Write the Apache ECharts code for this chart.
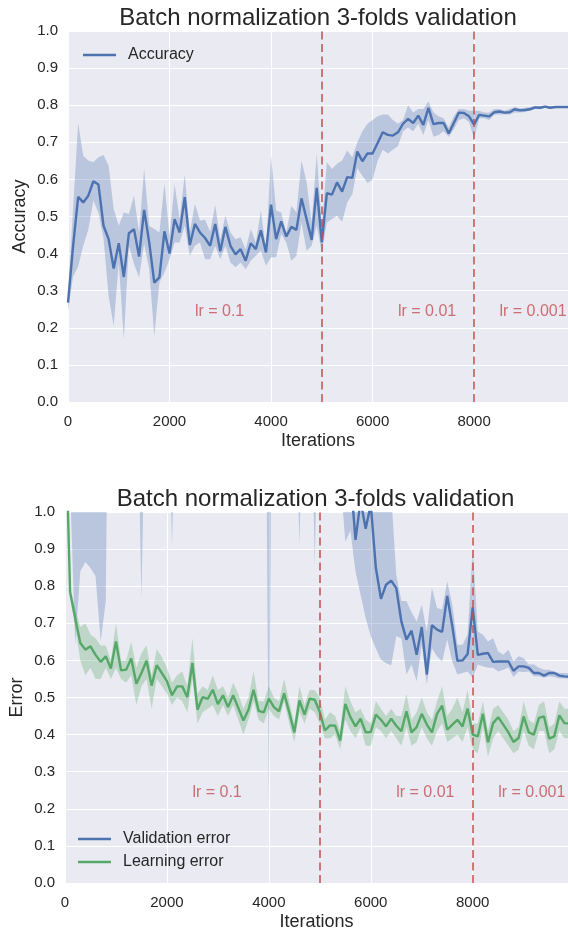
<!DOCTYPE html>
<html>
<head>
<meta charset="utf-8">
<script src="https://cdn.jsdelivr.net/npm/echarts@6/dist/echarts.min.js"></script>
<style>
  html, body { margin: 0; padding: 0; background: #ffffff; }
  #chart { width: 568px; height: 932px; }
</style>
</head>
<body>
<div id="chart"></div>
<script>
// Training iterations at which each fold was evaluated
const iterations = [
  0, 100, 200, 300, 400, 500, 600, 700, 800, 900,
  1000, 1100, 1200, 1300, 1400, 1500, 1600, 1700, 1800, 1900,
  2000, 2100, 2200, 2300, 2400, 2500, 2600, 2700, 2800, 2900,
  3000, 3100, 3200, 3300, 3400, 3500, 3600, 3700, 3800, 3900,
  4000, 4100, 4200, 4300, 4400, 4500, 4600, 4700, 4800, 4900,
  5000, 5100, 5200, 5300, 5400, 5500, 5600, 5700, 5800, 5900,
  6000, 6100, 6200, 6300, 6400, 6500, 6600, 6700, 6800, 6900,
  7000, 7100, 7200, 7300, 7400, 7500, 7600, 7700, 7800, 7900,
  8000, 8100, 8200, 8300, 8400, 8500, 8600, 8700, 8800, 8900,
  9000, 9100, 9200, 9300, 9400, 9500, 9600, 9700, 9800, 9900
];

// Mean validation accuracy over the 3 folds, with its spread
const accuracy = [
  0.268, 0.42, 0.553, 0.538, 0.556, 0.595, 0.586, 0.475, 0.439, 0.36,
  0.428, 0.337, 0.455, 0.466, 0.392, 0.518, 0.43, 0.322, 0.336, 0.46,
  0.40, 0.493, 0.457, 0.552, 0.423, 0.48, 0.457, 0.442, 0.421, 0.48,
  0.406, 0.472, 0.421, 0.398, 0.412, 0.381, 0.428, 0.412, 0.463, 0.403,
  0.532, 0.439, 0.487, 0.446, 0.472, 0.464, 0.549, 0.493, 0.437, 0.577,
  0.43, 0.563, 0.559, 0.592, 0.567, 0.606, 0.604, 0.675, 0.649, 0.67,
  0.67, 0.698, 0.727, 0.72, 0.718, 0.727, 0.75, 0.763, 0.752, 0.772,
  0.747, 0.793, 0.749, 0.752, 0.752, 0.724, 0.752, 0.78, 0.779, 0.77,
  0.748, 0.774, 0.772, 0.77, 0.781, 0.783, 0.78, 0.781, 0.789, 0.786,
  0.787, 0.789, 0.794, 0.793, 0.796, 0.793, 0.795, 0.795, 0.795, 0.795
];
const accuracyLow = [
  0.245, 0.338, 0.365, 0.421, 0.465, 0.543, 0.51, 0.44, 0.286, 0.205,
  0.376, 0.169, 0.421, 0.372, 0.336, 0.426, 0.358, 0.178, 0.322, 0.349,
  0.385, 0.43, 0.43, 0.475, 0.394, 0.421, 0.43, 0.385, 0.385, 0.421,
  0.385, 0.421, 0.376, 0.363, 0.376, 0.358, 0.381, 0.394, 0.408, 0.367,
  0.39, 0.39, 0.453, 0.43, 0.381, 0.394, 0.484, 0.408, 0.421, 0.475,
  0.403, 0.484, 0.493, 0.502, 0.486, 0.538, 0.56, 0.63, 0.61, 0.59,
  0.60, 0.65, 0.68, 0.67, 0.68, 0.69, 0.73, 0.74, 0.73, 0.75,
  0.72, 0.76, 0.715, 0.72, 0.73, 0.715, 0.735, 0.76, 0.765, 0.755,
  0.71, 0.765, 0.765, 0.76, 0.775, 0.775, 0.775, 0.775, 0.78, 0.78,
  0.782, 0.785, 0.79, 0.789, 0.793, 0.79, 0.792, 0.793, 0.793, 0.793
];
const accuracyHigh = [
  0.29, 0.52, 0.752, 0.664, 0.651, 0.646, 0.66, 0.666, 0.637, 0.52,
  0.475, 0.511, 0.507, 0.556, 0.457, 0.628, 0.475, 0.466, 0.457, 0.588,
  0.448, 0.586, 0.493, 0.613, 0.457, 0.534, 0.489, 0.491, 0.459, 0.531,
  0.439, 0.502, 0.457, 0.439, 0.444, 0.412, 0.466, 0.43, 0.516, 0.412,
  0.664, 0.516, 0.511, 0.457, 0.529, 0.511, 0.651, 0.592, 0.484, 0.669,
  0.475, 0.646, 0.628, 0.642, 0.651, 0.678, 0.66, 0.70, 0.73, 0.75,
  0.76, 0.77, 0.775, 0.775, 0.76, 0.75, 0.76, 0.80, 0.78, 0.79,
  0.79, 0.81, 0.78, 0.77, 0.765, 0.74, 0.77, 0.79, 0.79, 0.785,
  0.785, 0.785, 0.78, 0.78, 0.79, 0.79, 0.785, 0.79, 0.795, 0.792,
  0.793, 0.795, 0.798, 0.797, 0.799, 0.797, 0.798, 0.797, 0.797, 0.797
];

// Mean validation error (diverges above 1.0 during the lr = 0.1 phase)
const validationError = [
  2.3, 1.9, 1.6, 1.5, 1.45, 1.4, 1.35, 1.3, 1.4, 2.6,
  3.0, 2.8, 3.2, 2.9, 3.1, 2.0, 3.0, 3.3, 2.9, 3.1,
  3.0, 2.2, 3.1, 3.0, 2.8, 3.2, 3.0, 2.9, 3.1, 3.3,
  3.0, 2.9, 3.2, 3.1, 3.0, 3.4, 3.1, 3.2, 3.0, 3.5,
  2.4, 3.4, 3.1, 3.0, 2.9, 2.8, 2.3, 2.9, 2.7, 2.1,
  2.6, 2.4, 2.2, 1.9, 1.6, 1.3, 1.1, 0.925, 1.03, 0.955,
  1.02, 0.849, 0.766, 0.804, 0.815, 0.795, 0.705, 0.656, 0.68, 0.615,
  0.69, 0.562, 0.695, 0.683, 0.677, 0.774, 0.692, 0.599, 0.60, 0.617,
  0.743, 0.615, 0.618, 0.62, 0.596, 0.597, 0.597, 0.597, 0.572, 0.584,
  0.584, 0.58, 0.566, 0.566, 0.559, 0.566, 0.566, 0.559, 0.557, 0.556
];
const validationLow = [
  2.0, 1.08, 0.642, 0.84, 0.865, 0.849, 0.827, 0.651, 0.76, 2.2,
  2.5, 2.4, 2.6, 2.5, 1.5, 0.764, 1.5, 2.9, 2.5, 2.7,
  1.5, 0.907, 1.5, 2.6, 2.4, 2.8, 2.6, 2.5, 2.7, 2.9,
  2.6, 2.5, 2.8, 2.7, 2.6, 3.0, 2.7, 2.8, 2.6, 2.2,
  0.2, 2.2, 2.7, 2.6, 2.5, 1.5, 0.911, 1.5, 1.6, 0.853,
  1.6, 2.0, 1.8, 1.5, 1.1, 0.92, 0.95, 0.84, 0.777, 0.714,
  0.665, 0.633, 0.602, 0.593, 0.586, 0.665, 0.66, 0.562, 0.589, 0.544,
  0.642, 0.535, 0.633, 0.611, 0.597, 0.656, 0.597, 0.562, 0.566, 0.57,
  0.553, 0.589, 0.584, 0.58, 0.58, 0.57, 0.575, 0.581, 0.555, 0.57,
  0.569, 0.57, 0.557, 0.557, 0.553, 0.557, 0.555, 0.551, 0.551, 0.55
];
const validationHigh = [
  3.2, 2.9, 2.6, 2.4, 2.3, 2.2, 2.1, 2.0, 2.2, 3.4,
  3.8, 3.6, 4.0, 3.7, 3.9, 2.9, 3.8, 4.1, 3.7, 3.9,
  3.8, 3.0, 3.9, 3.8, 3.6, 4.0, 3.8, 3.7, 3.9, 4.1,
  3.8, 3.7, 4.0, 3.9, 3.8, 4.2, 3.9, 4.0, 3.8, 4.3,
  3.2, 4.2, 3.9, 3.8, 3.7, 3.6, 3.1, 3.7, 3.5, 2.9,
  3.4, 3.2, 3.0, 2.7, 2.4, 2.1, 1.9, 1.6, 1.5, 1.4,
  1.35, 1.3, 1.2, 1.15, 1.05, 0.83, 0.76, 0.76, 0.73, 0.705,
  0.75, 0.678, 0.795, 0.741, 0.737, 0.813, 0.75, 0.642, 0.642, 0.669,
  0.903, 0.678, 0.669, 0.651, 0.66, 0.624, 0.615, 0.629, 0.597, 0.611,
  0.606, 0.589, 0.589, 0.58, 0.575, 0.575, 0.57, 0.566, 0.566, 0.565
];

// Mean training (learning) error over the 3 folds, with its spread
const learningError = [
  1.3, 0.784, 0.714, 0.647, 0.629, 0.638, 0.615, 0.596, 0.611, 0.578,
  0.651, 0.573, 0.575, 0.605, 0.537, 0.566, 0.599, 0.532, 0.587, 0.566,
  0.544, 0.506, 0.53, 0.53, 0.501, 0.593, 0.467, 0.501, 0.496, 0.521,
  0.482, 0.506, 0.474, 0.506, 0.472, 0.438, 0.467, 0.521, 0.464, 0.46,
  0.497, 0.474, 0.463, 0.511, 0.46, 0.406, 0.492, 0.454, 0.497, 0.494,
  0.461, 0.411, 0.425, 0.424, 0.384, 0.483, 0.447, 0.422, 0.443, 0.406,
  0.407, 0.454, 0.44, 0.422, 0.443, 0.424, 0.409, 0.463, 0.406, 0.42,
  0.456, 0.427, 0.406, 0.456, 0.478, 0.413, 0.427, 0.44, 0.422, 0.47,
  0.40, 0.395, 0.456, 0.379, 0.431, 0.447, 0.427, 0.406, 0.38, 0.391,
  0.449, 0.406, 0.40, 0.445, 0.449, 0.389, 0.395, 0.452, 0.431, 0.43
];
const learningLow = [
  1.25, 0.77, 0.69, 0.60, 0.56, 0.58, 0.55, 0.55, 0.58, 0.55,
  0.58, 0.55, 0.54, 0.56, 0.48, 0.53, 0.55, 0.47, 0.55, 0.53,
  0.51, 0.48, 0.50, 0.49, 0.46, 0.55, 0.43, 0.46, 0.47, 0.48,
  0.45, 0.48, 0.45, 0.48, 0.44, 0.40, 0.44, 0.49, 0.44, 0.43,
  0.47, 0.45, 0.44, 0.49, 0.43, 0.38, 0.46, 0.43, 0.47, 0.46,
  0.43, 0.39, 0.39, 0.40, 0.36, 0.44, 0.41, 0.39, 0.42, 0.37,
  0.37, 0.42, 0.41, 0.39, 0.41, 0.39, 0.37, 0.42, 0.37, 0.38,
  0.42, 0.39, 0.37, 0.41, 0.43, 0.38, 0.39, 0.40, 0.38, 0.42,
  0.36, 0.35, 0.42, 0.34, 0.39, 0.41, 0.39, 0.37, 0.35, 0.36,
  0.41, 0.37, 0.36, 0.41, 0.41, 0.35, 0.36, 0.41, 0.39, 0.39
];
const learningHigh = [
  1.35, 0.80, 0.74, 0.69, 0.70, 0.67, 0.66, 0.64, 0.64, 0.60,
  0.70, 0.60, 0.60, 0.65, 0.58, 0.62, 0.64, 0.56, 0.63, 0.61,
  0.58, 0.54, 0.56, 0.57, 0.53, 0.66, 0.51, 0.53, 0.52, 0.56,
  0.52, 0.53, 0.50, 0.54, 0.51, 0.47, 0.50, 0.57, 0.49, 0.49,
  0.53, 0.50, 0.49, 0.55, 0.49, 0.43, 0.53, 0.48, 0.52, 0.52,
  0.50, 0.44, 0.46, 0.45, 0.41, 0.53, 0.49, 0.46, 0.47, 0.44,
  0.43, 0.49, 0.47, 0.45, 0.47, 0.45, 0.45, 0.51, 0.44, 0.46,
  0.50, 0.46, 0.44, 0.49, 0.53, 0.45, 0.47, 0.50, 0.46, 0.52,
  0.43, 0.43, 0.49, 0.41, 0.47, 0.48, 0.46, 0.44, 0.41, 0.42,
  0.49, 0.44, 0.43, 0.48, 0.49, 0.42, 0.43, 0.49, 0.47, 0.47
];

// Axis ticks, learning-rate schedule and its annotations
const xTickLabels = [0, 2000, 4000, 6000, 8000];
const lrChangeIterations = [5000, 8000];
const lrNotes = [
  { iteration: 2500, text: 'lr = 0.1' },
  { iteration: 6500, text: 'lr = 0.01' },
  { iteration: 8500, text: 'lr = 0.001' }
];
const lrNoteLevel = 0.243;

const FONT = '"Liberation Sans", Arial, sans-serif';
const INK = '#262626';
const BLUE = '#4C72B0';
const GREEN = '#55A868';
const RED = '#C44E52';
const TITLE = 'Batch normalization 3-folds validation';

const chart = echarts.init(document.getElementById('chart'), null, { renderer: 'canvas' });

function pairs(values) {
  return iterations.map((x, i) => [x, values[i]]);
}

// Shaded spread between low and high, drawn as one polygon through the axes
function band(name, axisIndex, low, high, color) {
  return {
    type: 'custom',
    name: name,
    xAxisIndex: axisIndex,
    yAxisIndex: axisIndex,
    clip: true,
    silent: true,
    z: 2,
    data: iterations.map((x, i) => [x, low[i], high[i]]),
    encode: { x: 0, y: [1, 2] },
    renderItem: function (params, api) {
      if (params.dataIndex !== 0) return null;
      const pts = [];
      for (let i = 0; i < iterations.length; i++) pts.push(api.coord([iterations[i], high[i]]));
      for (let i = iterations.length - 1; i >= 0; i--) pts.push(api.coord([iterations[i], low[i]]));
      return { type: 'polygon', shape: { points: pts }, style: { fill: color } };
    }
  };
}

function meanLine(name, axisIndex, values, color, withMarks) {
  const s = {
    type: 'line',
    name: name,
    xAxisIndex: axisIndex,
    yAxisIndex: axisIndex,
    data: pairs(values),
    symbol: 'none',
    clip: true,
    z: 3,
    silent: true,
    lineStyle: { color: color, width: 2.4 },
    itemStyle: { color: color }
  };
  if (withMarks) {
    s.markLine = {
      silent: true,
      symbol: 'none',
      label: { show: false },
      lineStyle: { color: RED, type: [8, 4.5], width: 1.5 },
      emphasis: { disabled: true },
      data: lrChangeIterations.map(v => ({ xAxis: v }))
    };
  }
  return s;
}

function notes(axisIndex) {
  return {
    type: 'scatter',
    xAxisIndex: axisIndex,
    yAxisIndex: axisIndex,
    symbolSize: 0,
    silent: true,
    z: 4,
    data: lrNotes.map(n => ({ value: [n.iteration, lrNoteLevel], name: n.text })),
    label: {
      show: true,
      position: 'right',
      distance: 0,
      formatter: p => p.name,
      color: RED,
      fontSize: 16,
      fontFamily: FONT
    }
  };
}

function xAxis(gridIndex, max) {
  return {
    gridIndex: gridIndex,
    type: 'value',
    min: 0,
    max: max,
    interval: 2000,
    axisLine: { show: false },
    axisTick: { show: false },
    splitLine: { show: true, lineStyle: { color: '#ffffff', width: 1 } },
    axisLabel: {
      color: INK, fontSize: 15, fontFamily: FONT, margin: 12,
      showMaxLabel: false,
      formatter: v => (xTickLabels.indexOf(v) >= 0 ? String(v) : '')
    },
    name: 'Iterations',
    nameLocation: 'middle',
    nameGap: 30,
    nameTextStyle: { color: INK, fontSize: 18, fontFamily: FONT }
  };
}

function yAxis(gridIndex, name, gap) {
  return {
    gridIndex: gridIndex,
    type: 'value',
    min: 0,
    max: 1,
    interval: 0.1,
    axisLine: { show: false },
    axisTick: { show: false },
    splitLine: { show: true, lineStyle: { color: '#ffffff', width: 1 } },
    axisLabel: {
      color: INK, fontSize: 15, fontFamily: FONT, margin: 10,
      formatter: v => v.toFixed(1)
    },
    name: name,
    nameLocation: 'middle',
    nameGap: gap,
    nameMoveOverlap: false,
    nameTextStyle: { color: INK, fontSize: 18, fontFamily: FONT }
  };
}

const legendText = { color: INK, fontSize: 16, fontFamily: FONT, padding: [0, 0, 0, 7] };

chart.setOption({
  animation: false,
  backgroundColor: '#ffffff',
  textStyle: { fontFamily: FONT },
  graphic: [
    { type: 'text', x: 318, y: 18, silent: true,
      style: { text: TITLE, fill: INK, font: '24px ' + FONT, align: 'center', verticalAlign: 'middle' } },
    { type: 'text', x: 315.5, y: 499, silent: true,
      style: { text: TITLE, fill: INK, font: '24px ' + FONT, align: 'center', verticalAlign: 'middle' } }
  ],
  grid: [
    { left: 68, top: 31, right: 0, height: 371, show: true, backgroundColor: '#EAEAF2', borderWidth: 0 },
    { left: 63, top: 512, right: 0, height: 371, show: true, backgroundColor: '#EAEAF2', borderWidth: 0 }
  ],
  xAxis: [xAxis(0, 9850), xAxis(1, 9870)],
  yAxis: [yAxis(0, 'Accuracy', 39), yAxis(1, 'Error', 39)],
  legend: [
    {
      data: ['Accuracy'], left: 83, top: 47, padding: 0, icon: 'rect',
      itemWidth: 33, itemHeight: 2.5, selectedMode: false, textStyle: legendText
    },
    {
      data: ['Validation error', 'Learning error'], orient: 'vertical', left: 78, top: 831, padding: 0,
      icon: 'rect', itemWidth: 33, itemHeight: 2.5, itemGap: 7, selectedMode: false, textStyle: legendText
    }
  ],
  series: [
    band('Accuracy spread', 0, accuracyLow, accuracyHigh, 'rgba(76,114,176,0.3)'),
    meanLine('Accuracy', 0, accuracy, BLUE, true),
    notes(0),
    band('Validation spread', 1, validationLow, validationHigh, 'rgba(76,114,176,0.3)'),
    band('Learning spread', 1, learningLow, learningHigh, 'rgba(85,168,104,0.3)'),
    meanLine('Validation error', 1, validationError, BLUE, true),
    meanLine('Learning error', 1, learningError, GREEN, false),
    notes(1)
  ]
});
</script>
</body>
</html>
